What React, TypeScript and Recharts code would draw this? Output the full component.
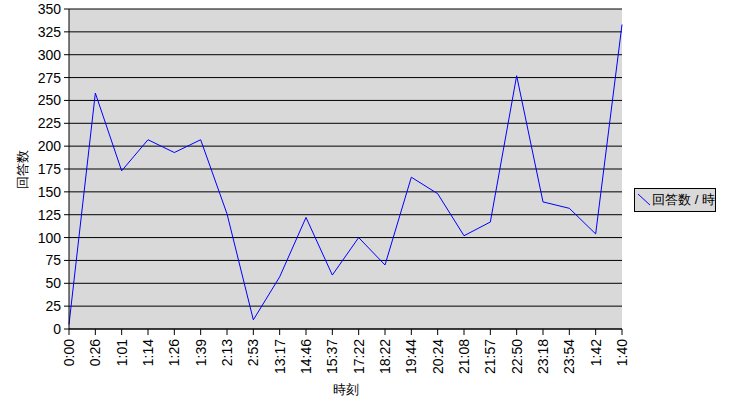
import { LineChart, Line, XAxis, YAxis, CartesianGrid, Label } from "recharts";

const times = [
  "0:00", "0:26", "1:01", "1:14", "1:26", "1:39", "2:13", "2:53", "13:17", "14:46", "15:37",
  "17:22", "18:22", "19:44", "20:24", "21:08", "21:57", "22:50", "23:18", "23:54", "1:42", "1:40",
];
const answers = [5, 258, 173, 207, 193, 207, 126, 10, 57, 122, 59, 100, 70, 166, 148, 102, 117, 277, 139, 132, 104, 333];
const yTicks = [0, 25, 50, 75, 100, 125, 150, 175, 200, 225, 250, 275, 300, 325, 350];

const seriesName = "回答数 / 時";
const FONT = '"Liberation Sans", Arial, sans-serif';

const data = times.map((t, i) => ({ time: t, value: answers[i] }));

function XTick(props: any) {
  const { x, y, payload } = props;
  return (
    <text
      x={x}
      y={y}
      transform={`rotate(-90 ${x} ${y})`}
      textAnchor="end"
      dominantBaseline="central"
      fontSize={14}
      fontFamily={FONT}
      fill="#000"
    >
      {payload.value}
    </text>
  );
}

// legend drawn by hand so it does not eat into the plot area
function LegendBox() {
  return (
    <div
      style={{
        position: "absolute",
        left: 634,
        top: 188,
        border: "1px solid #000",
        background: "#d9d9d9",
        width: 80,
        height: 22,
        display: "flex",
        alignItems: "center",
        fontFamily: FONT,
        fontSize: 13,
        color: "#000",
      }}
    >
      <svg width={20} height={22} style={{ display: "block" }}>
        <line x1={3} y1={5} x2={16} y2={17} stroke="#0000ff" strokeWidth={1} />
      </svg>
      <span style={{ marginLeft: 2, whiteSpace: "nowrap" }}>{seriesName}</span>
    </div>
  );
}

export default function App() {
  return (
    <div style={{ position: "absolute", left: 0, top: 0, width: 729, height: 407, background: "#fff" }}>
      <LineChart width={729} height={407} data={data} margin={{ top: 9, right: 107, left: 0, bottom: 0 }}>
        <CartesianGrid vertical={false} stroke="#000" fill="#d9d9d9" fillOpacity={1} />
        <XAxis
          dataKey="time"
          interval={0}
          height={78}
          tickSize={6}
          tickMargin={4}
          tick={<XTick />}
          axisLine={{ stroke: "#000" }}
          tickLine={{ stroke: "#000" }}
        >
          <Label
            content={(p: any) => {
              const vb = p.viewBox;
              return (
                <text
                  x={vb.x + vb.width / 2}
                  y={389}
                  textAnchor="middle"
                  dominantBaseline="central"
                  fontSize={13}
                  fontFamily={FONT}
                  fill="#000"
                >
                  時刻
                </text>
              );
            }}
          />
        </XAxis>
        <YAxis
          width={69}
          domain={[0, 350]}
          ticks={yTicks}
          interval={0}
          tickSize={5}
          tickMargin={3}
          tick={{ fontSize: 14, fontFamily: FONT, fill: "#000" }}
          axisLine={{ stroke: "#000" }}
          tickLine={{ stroke: "#000" }}
        >
          <Label
            content={(p: any) => {
              const vb = p.viewBox;
              const cy = vb.y + vb.height / 2;
              return (
                <text
                  x={22}
                  y={cy}
                  transform={`rotate(-90 22 ${cy})`}
                  textAnchor="middle"
                  dominantBaseline="central"
                  fontSize={13}
                  fontFamily={FONT}
                  fill="#000"
                >
                  回答数
                </text>
              );
            }}
          />
        </YAxis>
        <Line
          type="linear"
          dataKey="value"
          name={seriesName}
          stroke="#0000ff"
          strokeWidth={1}
          dot={false}
          activeDot={false}
          isAnimationActive={false}
        />
      </LineChart>
      <LegendBox />
    </div>
  );
}
